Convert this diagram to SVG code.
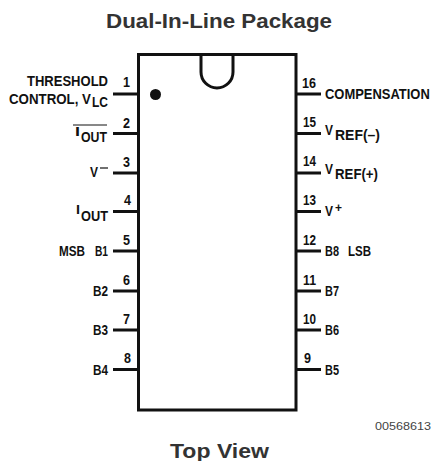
<svg xmlns="http://www.w3.org/2000/svg" width="433" height="461" viewBox="0 0 433 461">
<style>
text{font-family:"Liberation Sans",Arial,sans-serif;fill:#111}
.t{font-weight:700;font-size:21px;fill:#333}
.l{font-weight:700;font-size:15px}
.s{font-weight:700;font-size:12px}
.n{font-weight:700;font-size:15.500px}
.c{font-size:11.5px;fill:#444}
.w{fill:none;stroke:#111;stroke-width:3}
</style>
<rect width="433" height="461" fill="#fff"/>
<text class="t" x="106" y="28" textLength="226" lengthAdjust="spacingAndGlyphs">Dual-In-Line Package</text>
<text class="t" x="170" y="458" textLength="99" lengthAdjust="spacingAndGlyphs">Top View</text>
<text class="c" x="375" y="430" textLength="56" lengthAdjust="spacingAndGlyphs">00568613</text>
<g id="package">
<rect class="w" x="138.5" y="54.5" width="157.5" height="355.5"/>
<path class="w" d="M201 55V72A16 16 0 0 0 233 72V55"/>
<circle cx="155.5" cy="94.5" r="5.5" fill="#111"/>
</g>
<g id="connectors" class="w">
<path d="M113 94H138M113 133.500H138M113 173H138M113 211.500H138M113 251H138M113 291H138M113 330H138M113 369.500H138"/>
<path d="M296 94H321M296 133.500H321M296 173H321M296 211.500H321M296 251H321M296 291H321M296 330H321M296 369.500H321"/>
</g>
<g id="pin1"><text class="n" x="123" y="87" textLength="7" lengthAdjust="spacingAndGlyphs">1</text>
<text class="l" x="27" y="86" textLength="81" lengthAdjust="spacingAndGlyphs">THRESHOLD</text>
<text class="l" transform="translate(9 104) scale(.82 1)" textLength="100" lengthAdjust="spacingAndGlyphs">CONTROL, V</text>
<text class="l" x="92" y="107" textLength="16" lengthAdjust="spacingAndGlyphs">LC</text></g>
<g id="pin2"><text class="n" x="123" y="128" textLength="7" lengthAdjust="spacingAndGlyphs">2</text>
<path d="M73 125H107" stroke="#111" stroke-width="1"/>
<text class="s" x="75" y="136" textLength="5" lengthAdjust="spacingAndGlyphs">I</text>
<text class="l" x="81" y="141.500" textLength="26" lengthAdjust="spacingAndGlyphs">OUT</text></g>
<g id="pin3"><text class="n" x="123" y="167" textLength="7" lengthAdjust="spacingAndGlyphs">3</text>
<text class="l" x="90" y="176.500" textLength="8" lengthAdjust="spacingAndGlyphs">V</text>
<path d="M100 168H108" stroke="#111" stroke-width="1.200"/></g>
<g id="pin4"><text class="n" x="124" y="205" textLength="7" lengthAdjust="spacingAndGlyphs">4</text>
<text class="s" x="76" y="214" textLength="4" lengthAdjust="spacingAndGlyphs">I</text>
<text class="l" x="81" y="221" textLength="27" lengthAdjust="spacingAndGlyphs">OUT</text></g>
<g id="pin5"><text class="n" x="123" y="245" textLength="7" lengthAdjust="spacingAndGlyphs">5</text>
<text class="l" x="59" y="256" textLength="26" lengthAdjust="spacingAndGlyphs">MSB</text>
<text class="l" x="95" y="256" textLength="13" lengthAdjust="spacingAndGlyphs">B1</text></g>
<g id="pin6"><text class="n" x="123" y="285" textLength="7" lengthAdjust="spacingAndGlyphs">6</text>
<text class="l" x="93" y="296" textLength="15" lengthAdjust="spacingAndGlyphs">B2</text></g>
<g id="pin7"><text class="n" x="123" y="324" textLength="7" lengthAdjust="spacingAndGlyphs">7</text>
<text class="l" x="93" y="335" textLength="15" lengthAdjust="spacingAndGlyphs">B3</text></g>
<g id="pin8"><text class="n" x="124" y="363" textLength="7" lengthAdjust="spacingAndGlyphs">8</text>
<text class="l" x="93" y="375" textLength="15" lengthAdjust="spacingAndGlyphs">B4</text></g>
<g id="pin9"><text class="n" x="304" y="363" textLength="7" lengthAdjust="spacingAndGlyphs">9</text>
<text class="l" x="325" y="375" textLength="14" lengthAdjust="spacingAndGlyphs">B5</text></g>
<g id="pin10"><text class="n" x="303" y="324" textLength="13" lengthAdjust="spacingAndGlyphs">10</text>
<text class="l" x="325" y="335" textLength="14" lengthAdjust="spacingAndGlyphs">B6</text></g>
<g id="pin11"><text class="n" x="303" y="285" textLength="13" lengthAdjust="spacingAndGlyphs">11</text>
<text class="l" x="325" y="296" textLength="14" lengthAdjust="spacingAndGlyphs">B7</text></g>
<g id="pin12"><text class="n" x="303" y="245" textLength="13" lengthAdjust="spacingAndGlyphs">12</text>
<text class="l" x="325" y="256" textLength="14" lengthAdjust="spacingAndGlyphs">B8</text>
<text class="l" x="348" y="256" textLength="23" lengthAdjust="spacingAndGlyphs">LSB</text></g>
<g id="pin13"><text class="n" x="303" y="205" textLength="13" lengthAdjust="spacingAndGlyphs">13</text>
<text class="l" x="325" y="216" textLength="8" lengthAdjust="spacingAndGlyphs">V</text>
<text class="s" x="335" y="212" textLength="7" lengthAdjust="spacingAndGlyphs">+</text></g>
<g id="pin14"><text class="n" x="303" y="166" textLength="13" lengthAdjust="spacingAndGlyphs">14</text>
<text class="l" x="325" y="174" textLength="8" lengthAdjust="spacingAndGlyphs">V</text>
<text class="l" x="335" y="179" textLength="43" lengthAdjust="spacingAndGlyphs">REF(+)</text></g>
<g id="pin15"><text class="n" x="303" y="127" textLength="13" lengthAdjust="spacingAndGlyphs">15</text>
<text class="l" x="325" y="135" textLength="8" lengthAdjust="spacingAndGlyphs">V</text>
<text class="l" x="335" y="140" textLength="45" lengthAdjust="spacingAndGlyphs">REF(–)</text></g>
<g id="pin16"><text class="n" x="302" y="88" textLength="14" lengthAdjust="spacingAndGlyphs">16</text>
<text class="l" transform="translate(325 99) scale(.8 1)" textLength="131" lengthAdjust="spacingAndGlyphs">COMPENSATION</text></g>
</svg>
